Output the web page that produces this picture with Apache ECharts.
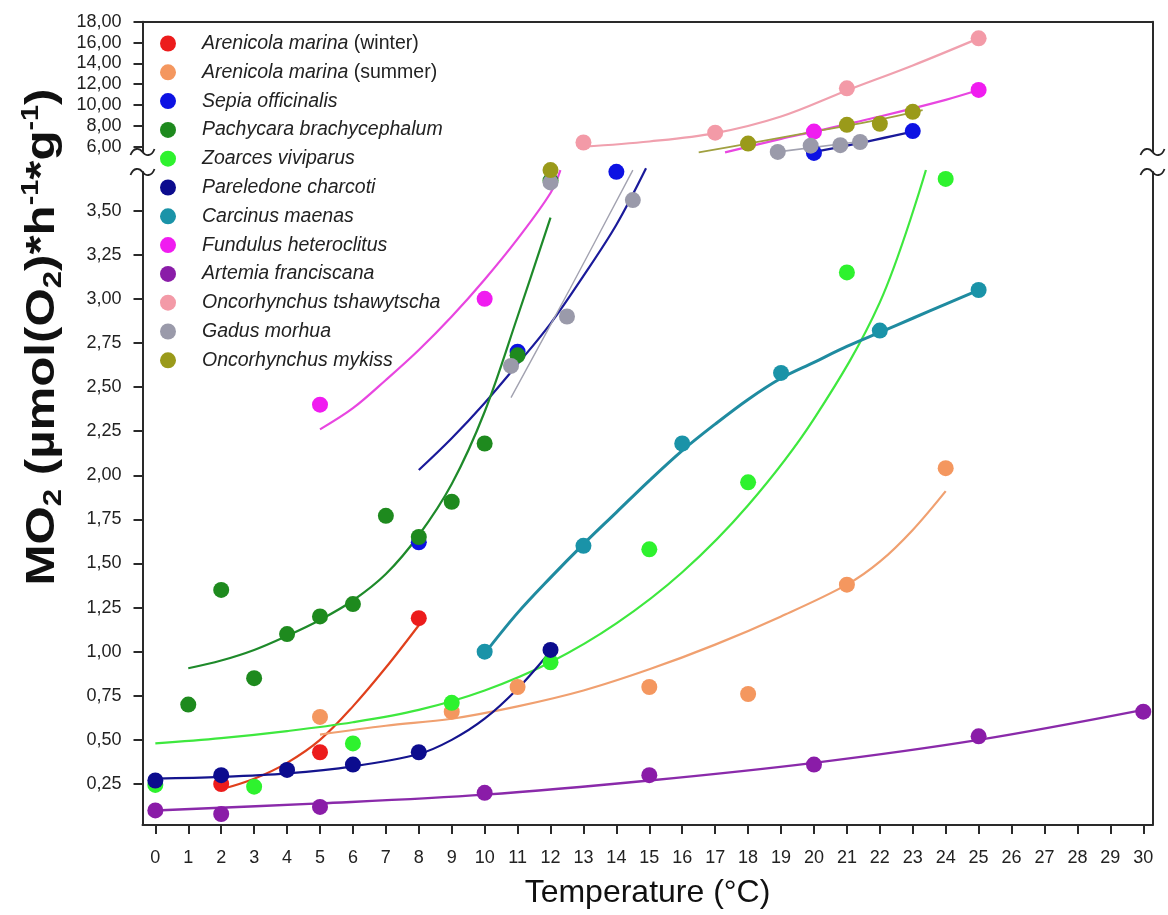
<!DOCTYPE html>
<html>
<head>
<meta charset="utf-8">
<script src="https://cdn.jsdelivr.net/npm/echarts@6/dist/echarts.min.js"></script>
<style>
  html, body { margin: 0; padding: 0; background: #ffffff; }
  #chart { width: 1168px; height: 915px; }
</style>
</head>
<body>
<div id="chart"></div>
<script>
// ---- Species (legend order) ----
const speciesNames = [
  'Arenicola marina (winter)', 'Arenicola marina (summer)', 'Sepia officinalis',
  'Pachycara brachycephalum', 'Zoarces viviparus', 'Pareledone charcoti',
  'Carcinus maenas', 'Fundulus heteroclitus', 'Artemia franciscana',
  'Oncorhynchus tshawytscha', 'Gadus morhua', 'Oncorhynchus mykiss'
];
const pointColors = [
  '#ec1c1c', '#f4975f', '#0d12e3', '#1e8a1e', '#2ef22e', '#0c0c8e',
  '#1a93a8', '#f01cf0', '#8a1ca8', '#f39aa7', '#9a9aaa', '#9a9a1a'
];
const lineColors = [
  '#e0401c', '#f0a070', '#1a1a9a', '#1e8a2a', '#3ee83e', '#14148e',
  '#1f8ba0', '#e846e0', '#8a2aaa', '#f0a0ae', '#a2a2b0', '#a0a040'
];

// ---- Axis ticks ----
const tempTicks = [0,1,2,3,4,5,6,7,8,9,10,11,12,13,14,15,16,17,18,19,20,21,22,23,24,25,26,27,28,29,30];
const lowerTicks = [0.25,0.5,0.75,1,1.25,1.5,1.75,2,2.25,2.5,2.75,3,3.25,3.5];
const upperTicks = [6,8,10,12,14,16,18];

// ---- Measured points (temperature, MO2) ----
const winterPts   = [[2,0.25],[5,0.43],[8,1.19]];
const summerPts   = [[5,0.63],[9,0.66],[11,0.80],[15,0.80],[18,0.76],[21,1.38],[24,2.04]];
const sepiaPts    = [[8,1.62],[11,2.70],[14,3.72]];
const sepiaHiPts  = [[20,5.4],[23,7.5]];
const pachyPts    = [[1,0.70],[2,1.35],[3,0.85],[4,1.10],[5,1.20],[6,1.27],[7,1.77],[8,1.65],[9,1.85],[10,2.18],[11,2.68],[12,3.67]];
const zoarcesPts  = [[0,0.245],[3,0.235],[6,0.48],[9,0.71],[12,0.94],[15,1.58],[18,1.96],[21,3.15],[24,3.68]];
const pareledonePts = [[0,0.27],[2,0.30],[4,0.33],[6,0.36],[8,0.43],[12,1.01]];
const carcinusPts = [[10,1.00],[13,1.60],[16,2.18],[19,2.58],[22,2.82],[25,3.05]];
const fundulusPts = [[5,2.40],[10,3.00]];
const fundulusHiPts = [[20,7.45],[25,11.45]];
const artemiaPts  = [[0,0.10],[2,0.08],[5,0.12],[10,0.20],[15,0.30],[20,0.36],[25,0.52],[30,0.66]];
const tshawHiPts  = [[13,6.4],[17,7.35],[21,11.6],[25,16.4]];
const gadusPts    = [[10.8,2.62],[12,3.66],[12.5,2.90],[14.5,3.56]];
const gadusHiPts  = [[18.9,5.5],[19.9,6.1],[20.8,6.15],[21.4,6.45]];
const mykissPts   = [[12,3.73]];
const mykissHiPts = [[18,6.3],[21,8.1],[22,8.2],[23,9.35]];

// ---- Fitted curves ----
const winterFit   = [[2,0.22],[3,0.28],[4,0.37],[5,0.50],[6,0.69],[7,0.91],[8,1.15]];
const summerFit   = [[5,0.53],[7,0.58],[9,0.62],[11,0.69],[13,0.78],[15,0.90],[17,1.04],[19,1.20],[21,1.38],[22,1.51],[23,1.69],[24,1.91]];
const sepiaFit    = [[8,2.03],[9,2.21],[10,2.41],[11,2.63],[12,2.86],[13,3.13],[14,3.42],[14.9,3.74]];
const sepiaHiFit  = [[19.8,5.4],[21,6.1],[23,7.45]];
const pachyFit    = [[1,0.906],[2,0.95],[3,1.01],[4,1.09],[5,1.18],[6,1.29],[7,1.44],[8,1.66],[9,1.95],[10,2.36],[11,2.90],[12,3.46]];
const zoarcesFit  = [[0,0.48],[2,0.51],[4,0.55],[6,0.60],[8,0.67],[10,0.78],[12,0.94],[14,1.16],[16,1.45],[18,1.83],[20,2.32],[22,2.98],[23.4,3.73]];
const pareledoneFit = [[0,0.28],[2,0.29],[4,0.31],[6,0.35],[8,0.42],[9,0.50],[10,0.62],[11,0.79],[11.9,0.98]];
const carcinusFit = [[10,0.99],[11,1.22],[12,1.42],[13,1.61],[14,1.79],[15,1.97],[16,2.14],[17,2.29],[18,2.43],[19,2.55],[20,2.64],[21,2.73],[22,2.81],[23,2.89],[24,2.97],[25,3.05]];
const fundulusFit = [[5,2.26],[6,2.38],[7,2.54],[8,2.71],[9,2.90],[10,3.11],[11,3.34],[12,3.60],[12.3,3.73]];
const fundulusHiFit = [[17.3,5.45],[19,6.75],[20,7.45],[22,8.9],[24,10.5],[25,11.44]];
const artemiaFit  = [[0,0.10],[5,0.14],[10,0.19],[15,0.27],[20,0.37],[25,0.50],[30,0.67]];
const tshawHiFit  = [[13,6.0],[15,6.5],[17,7.3],[19,8.9],[21,11.4],[23,13.8],[25,16.4]];
const gadusFit    = [[10.8,2.44],[12.6,3.06],[14.5,3.73]];
const gadusHiFit  = [[18.9,5.5],[21.4,6.5]];
const mykissHiFit = [[16.5,5.45],[18,6.3],[20,7.45],[22,8.6],[23.3,9.5]];

// ---- Layout constants ----
const X_MIN = -0.39, X_MAX = 30.28;
const UP_MIN = 5.49, UP_MAX = 18;
const LO_MIN = 0.0176, LO_MAX = 3.719;
const AXIS_COLOR = '#2a2a2a';
const FONT = 'Liberation Sans, Arial, sans-serif';

const chart = echarts.init(document.getElementById('chart'), null, { renderer: 'canvas' });

function pts(idx, data, upper) {
  return {
    name: speciesNames[idx], type: 'scatter',
    xAxisIndex: upper ? 0 : 1, yAxisIndex: upper ? 0 : 2,
    data: data, symbol: 'circle', symbolSize: 16, clip: false, z: 3,
    itemStyle: { color: pointColors[idx], opacity: 1 },
    emphasis: { disabled: true }
  };
}
function fit(idx, data, upper, width) {
  return {
    name: speciesNames[idx] + ' fit', type: 'line',
    xAxisIndex: upper ? 0 : 1, yAxisIndex: upper ? 0 : 2,
    data: data, smooth: 0.35,
    showSymbol: false, symbol: 'none', clip: false, z: 2,
    lineStyle: { color: lineColors[idx], width: width || 2.2 },
    emphasis: { disabled: true }
  };
}

const series = [
  pts(0, winterPts), pts(1, summerPts), pts(2, sepiaPts), pts(2, sepiaHiPts, true),
  pts(3, pachyPts), pts(4, zoarcesPts), pts(5, pareledonePts), pts(6, carcinusPts),
  pts(7, fundulusPts), pts(7, fundulusHiPts, true), pts(8, artemiaPts),
  pts(9, tshawHiPts, true), pts(10, gadusPts), pts(10, gadusHiPts, true),
  pts(11, mykissPts), pts(11, mykissHiPts, true),
  fit(0, winterFit), fit(1, summerFit), fit(2, sepiaFit), fit(2, sepiaHiFit, true),
  fit(3, pachyFit), fit(4, zoarcesFit), fit(5, pareledoneFit), fit(6, carcinusFit, false, 3),
  fit(7, fundulusFit), fit(7, fundulusHiFit, true), fit(8, artemiaFit, false, 2.4),
  fit(9, tshawHiFit, true), fit(10, gadusFit, false, 1.4), fit(10, gadusHiFit, true, 1.6),
  fit(11, mykissHiFit, true, 1.8)
];

const commaFmt = v => Number(v).toFixed(2).replace('.', ',');

// broken-axis marks (small tilde strokes across the frame)
function brace(x, y) {
  const st = { stroke: '#222', lineWidth: 1.8, fill: null };
  return [
    { type: 'bezierCurve', silent: true, z: 10,
      shape: { x1: x - 12, y1: y + 3, cpx1: x - 9, cpy1: y - 5, cpx2: x - 3, cpy2: y - 4, x2: x, y2: y },
      style: st },
    { type: 'bezierCurve', silent: true, z: 10,
      shape: { x1: x, y1: y, cpx1: x + 3, cpy1: y + 4, cpx2: x + 9, cpy2: y + 5, x2: x + 12, y2: y - 3 },
      style: st }
  ];
}

const option = {
  backgroundColor: '#ffffff',
  animation: false,
  textStyle: { fontFamily: FONT },
  grid: [
    { left: 142.5, right: 15.5, top: 21.7, height: 130.3 },
    { left: 142.5, right: 15.5, top: 172, bottom: 90 }
  ],
  legend: {
    data: speciesNames.map(n => ({ name: n, icon: 'circle' })),
    orient: 'vertical', left: 160, top: 33.5, padding: 0,
    itemWidth: 16, itemHeight: 16, itemGap: 8.8,
    selectedMode: false,
    formatter: name => {
      const m = name.match(/^(.*?)(\s\(.*\))?$/);
      return '{i|' + m[1] + '}' + (m[2] ? '{n|' + m[2] + '}' : '');
    },
    textStyle: {
      fontFamily: FONT, fontSize: 19.5, color: '#222', padding: [0, 0, 0, 21],
      rich: {
        i: { fontFamily: FONT, fontSize: 19.5, fontStyle: 'italic', color: '#222' },
        n: { fontFamily: FONT, fontSize: 19.5, color: '#222' }
      }
    }
  },
  xAxis: [
    { gridIndex: 0, type: 'value', min: X_MIN, max: X_MAX, position: 'top',
      axisLine: { show: true, onZero: false, lineStyle: { color: AXIS_COLOR, width: 2 } },
      axisTick: { show: false }, axisLabel: { show: false }, splitLine: { show: false } },
    { gridIndex: 1, type: 'value', min: X_MIN, max: X_MAX, position: 'bottom',
      axisLine: { show: true, onZero: false, lineStyle: { color: AXIS_COLOR, width: 2 } },
      axisTick: { show: true, customValues: tempTicks, length: 9, lineStyle: { color: AXIS_COLOR, width: 2 } },
      axisLabel: { show: true, customValues: tempTicks, fontSize: 18, color: '#222', margin: 24, fontFamily: FONT },
      splitLine: { show: false },
      name: 'Temperature (°C)', nameLocation: 'middle', nameGap: 52,
      nameTextStyle: { fontSize: 32, color: '#111', fontFamily: FONT } }
  ],
  yAxis: [
    { gridIndex: 0, type: 'value', min: UP_MIN, max: UP_MAX, position: 'left',
      axisLine: { show: true, onZero: false, lineStyle: { color: AXIS_COLOR, width: 2 } },
      axisTick: { show: true, customValues: upperTicks, length: 9, lineStyle: { color: AXIS_COLOR, width: 2 } },
      axisLabel: { show: true, customValues: upperTicks, fontSize: 18, color: '#222', margin: 21, formatter: commaFmt, fontFamily: FONT },
      splitLine: { show: false } },
    { gridIndex: 0, type: 'value', min: UP_MIN, max: UP_MAX, position: 'right',
      axisLine: { show: true, onZero: false, lineStyle: { color: AXIS_COLOR, width: 2 } },
      axisTick: { show: false }, axisLabel: { show: false }, splitLine: { show: false } },
    { gridIndex: 1, type: 'value', min: LO_MIN, max: LO_MAX, position: 'left',
      axisLine: { show: true, onZero: false, lineStyle: { color: AXIS_COLOR, width: 2 } },
      axisTick: { show: true, customValues: lowerTicks, length: 9, lineStyle: { color: AXIS_COLOR, width: 2 } },
      axisLabel: { show: true, customValues: lowerTicks, fontSize: 18, color: '#222', margin: 21, formatter: commaFmt, fontFamily: FONT },
      splitLine: { show: false } },
    { gridIndex: 1, type: 'value', min: LO_MIN, max: LO_MAX, position: 'right',
      axisLine: { show: true, onZero: false, lineStyle: { color: AXIS_COLOR, width: 2 } },
      axisTick: { show: false }, axisLabel: { show: false }, splitLine: { show: false } }
  ],
  graphic: [
    ...brace(142.5, 152), ...brace(142.5, 172),
    ...brace(1152.5, 152), ...brace(1152.5, 172),
    { type: 'text', x: 43, y: 337, rotation: Math.PI / 2, scaleX: 1.2, scaleY: 1, silent: true,
      style: {
        text: '{b|MO}{s|2}{b| (µmol(O}{s|2}{b|)*h}{p|-1}{b|*g}{p|-1}{b|)}',
        align: 'center', verticalAlign: 'middle',
        rich: {
          b: { fontFamily: FONT, fontSize: 41, fontWeight: 'bold', fill: '#111', lineHeight: 48, verticalAlign: 'middle' },
          s: { fontFamily: FONT, fontSize: 26, fontWeight: 'bold', fill: '#111', lineHeight: 26, verticalAlign: 'bottom' },
          p: { fontFamily: FONT, fontSize: 24, fontWeight: 'bold', fill: '#111', lineHeight: 24, verticalAlign: 'top' }
        }
      } }
  ],
  series: series
};

chart.setOption(option);
</script>
</body>
</html>
